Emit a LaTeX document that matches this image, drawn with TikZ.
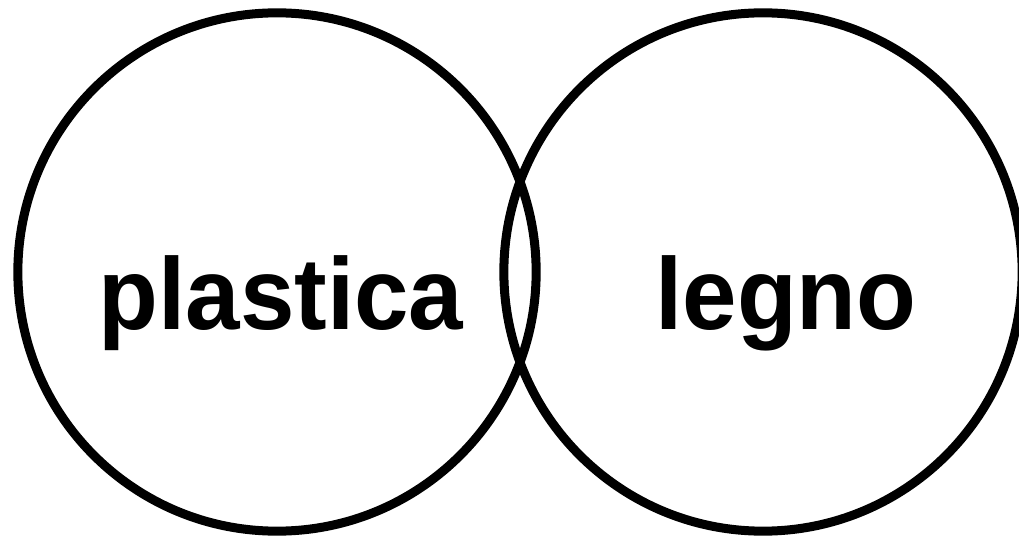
\documentclass[tikz,border=0pt]{standalone}
\usepackage{fontspec}
\setmainfont{Liberation Sans}[FakeStretch=0.96]
\usetikzlibrary{positioning}

\tikzset{
    ring/.style={draw, circle, line width=0.09cm, minimum size=5.18cm, inner sep=0pt},
    word/.style={anchor=base, font=\fontsize{29pt}{34pt}\selectfont\bfseries, inner sep=0pt}
}

\begin{document}
\begin{tikzpicture}[x=0.01cm, y=-0.01cm]
    \useasboundingbox (0,0) rectangle (1019,537);

    % Circles
    \node[ring] (ringplastica) at (277,272) {};
    \node[ring] (ringlegno) at (763,272) {};

    % Labels
    \node[word] (plastica) at (281,329) {plastica};
    \node[word] (legno) at (786,329) {legno};
\end{tikzpicture}
\end{document}
